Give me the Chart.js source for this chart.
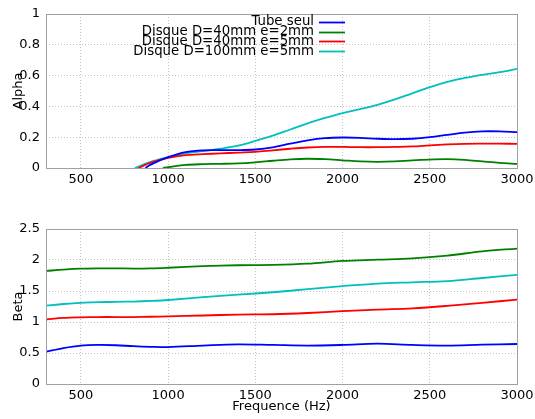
<!DOCTYPE html>
<html>
<head>
<meta charset="utf-8">
<script src="https://cdn.jsdelivr.net/npm/chart.js@4.4.1/dist/chart.umd.min.js"></script>
<style>
	html, body { margin: 0; padding: 0; background: #fff; }
	#wrap { position: relative; width: 535px; height: 419px; }
	.box { position: absolute; left: 0; width: 535px; }
</style>
</head>
<body>
<div id="wrap">
	<div class="box" style="top:0;height:200px"><canvas id="alpha"></canvas></div>
	<div class="box" style="top:200px;height:219px"><canvas id="beta"></canvas></div>
</div>
<script>
	'use strict';

	var seriesNames = ['Tube seul', 'Disque D=40mm e=2mm', 'Disque D=40mm e=5mm', 'Disque D=100mm e=5mm'];
	var seriesColors = ['#0000ff', '#008000', '#ff0000', '#00bfbf'];

	// Alpha (top), sampled every 100 Hz from 1000 to 3000, plus where each curve starts
	var alphaFreqs = [1000, 1100, 1200, 1300, 1400, 1500, 1600, 1700, 1800, 1900, 2000,
		2100, 2200, 2300, 2400, 2500, 2600, 2700, 2800, 2900, 3000];
	var alphaStartFreqs = [[870, 900], [970], [830, 900], [810, 900]];
	var alphaStartVals = [[0, 0.022], [0], [0, 0.035], [0, 0.04]];
	var alphaTube = [0.07, 0.103, 0.115, 0.116, 0.116, 0.12, 0.134, 0.158, 0.18, 0.194, 0.198,
		0.196, 0.19, 0.187, 0.19, 0.2, 0.215, 0.23, 0.238, 0.238, 0.233];
	var alphaD40e2 = [0.005, 0.02, 0.025, 0.027, 0.03, 0.037, 0.047, 0.056, 0.06, 0.057, 0.05,
		0.043, 0.04, 0.043, 0.05, 0.055, 0.058, 0.053, 0.043, 0.033, 0.027];
	var alphaD40e5 = [0.065, 0.083, 0.09, 0.095, 0.1, 0.105, 0.115, 0.125, 0.133, 0.137, 0.137,
		0.135, 0.135, 0.137, 0.14, 0.147, 0.153, 0.157, 0.158, 0.158, 0.157];
	var alphaD100e5 = [0.07, 0.095, 0.11, 0.125, 0.145, 0.176, 0.21, 0.25, 0.29, 0.325, 0.357,
		0.382, 0.41, 0.445, 0.485, 0.525, 0.56, 0.585, 0.605, 0.622, 0.644];

	// Beta (bottom)
	var betaFreqs = [300, 400, 500, 600, 700, 800, 900, 1000, 1200, 1400, 1600, 1800, 2000,
		2200, 2400, 2600, 2800, 3000];
	var betaTube = [0.52, 0.58, 0.62, 0.63, 0.625, 0.61, 0.6, 0.595, 0.62, 0.64, 0.63, 0.62, 0.63,
		0.65, 0.63, 0.62, 0.635, 0.645];
	var betaD40e2 = [1.823, 1.845, 1.86, 1.865, 1.865, 1.862, 1.865, 1.875, 1.9, 1.915, 1.92, 1.94, 1.985,
		2.005, 2.025, 2.07, 2.14, 2.185];
	var betaD40e5 = [1.04, 1.065, 1.075, 1.08, 1.08, 1.08, 1.085, 1.09, 1.105, 1.12, 1.125, 1.145, 1.175,
		1.2, 1.22, 1.26, 1.31, 1.36];
	var betaD100e5 = [1.263, 1.29, 1.31, 1.32, 1.325, 1.33, 1.34, 1.355, 1.4, 1.44, 1.48, 1.53, 1.58,
		1.62, 1.64, 1.66, 1.71, 1.76];

	var xTicks = [500, 1000, 1500, 2000, 2500, 3000];

	var FONT = 'DejaVu Sans';
	Chart.defaults.font.family = FONT;
	Chart.defaults.font.size = 13;
	Chart.defaults.color = '#000';

	function toPoints(freqs, vals) {
		return freqs.map(function (f, i) { return {x: f, y: vals[i]}; });
	}

	function plainNumber(value) {
		return String(Math.round(value * 10) / 10);
	}

	function makeDatasets(parts) {
		return parts.map(function (pts, i) {
			return {
				label: seriesNames[i],
				data: pts,
				borderColor: seriesColors[i],
				backgroundColor: seriesColors[i],
				borderWidth: 1.8,
				pointRadius: 0,
				tension: 0.35,
				fill: false
			};
		});
	}

	// gnuplot style frame around the plot area
	var framePlugin = {
		id: 'frame',
		afterDraw: function (chart) {
			var a = chart.chartArea, ctx = chart.ctx;
			ctx.save();
			ctx.strokeStyle = '#a0a0a0';
			ctx.lineWidth = 1;
			ctx.strokeRect(Math.round(a.left) + 0.5, Math.round(a.top) + 0.5,
				Math.round(a.right - a.left), Math.round(a.bottom - a.top));
			ctx.restore();
		}
	};

	// legend drawn inside the plot, text right aligned before a line sample
	var keyPlugin = {
		id: 'key',
		afterDraw: function (chart) {
			var a = chart.chartArea, ctx = chart.ctx,
				lineEnd = a.left + 299,
				lineStart = lineEnd - 26,
				textRight = lineStart - 5,
				rowTop = a.top + 8,
				rowStep = 9.7;
			ctx.save();
			ctx.font = '13.3px "' + FONT + '"';
			ctx.textAlign = 'right';
			ctx.textBaseline = 'middle';
			chart.data.datasets.forEach(function (ds, i) {
				var y = rowTop + i * rowStep;
				ctx.fillStyle = '#000';
				ctx.fillText(ds.label, textRight, y);
				ctx.strokeStyle = ds.borderColor;
				ctx.lineWidth = 1.8;
				ctx.beginPath();
				ctx.moveTo(lineStart, Math.round(y) + 0.5);
				ctx.lineTo(lineEnd, Math.round(y) + 0.5);
				ctx.stroke();
			});
			ctx.restore();
		}
	};

	function gridOpts() {
		return {color: '#c4c4c4', lineWidth: 1, drawTicks: false};
	}

	function makeOptions(yMax, yStep, yTitle, xTitle, padTop, xHeight) {
		return {
			responsive: true,
			maintainAspectRatio: false,
			animation: false,
			layout: {padding: {top: padTop, right: 18, left: 0, bottom: 0}},
			plugins: {legend: {display: false}, tooltip: {enabled: false}},
			scales: {
				x: {
					type: 'linear',
					min: 300,
					max: 3000,
					afterBuildTicks: function (scale) {
						scale.ticks = xTicks.map(function (v) { return {value: v}; });
					},
					afterFit: function (scale) {
						scale.height = xHeight;
						scale.paddingLeft = 0;
						scale.paddingRight = 0;
					},
					ticks: {padding: 4, maxRotation: 0, autoSkip: false, callback: plainNumber},
					grid: gridOpts(),
					border: {display: false, dash: [1, 2]},
					title: {
						display: !!xTitle,
						text: xTitle,
						font: {size: 13},
						padding: {top: 0, bottom: 5}
					}
				},
				y: {
					min: 0,
					max: yMax,
					afterFit: function (scale) { scale.width = 46; },
					ticks: {stepSize: yStep, padding: 6, callback: plainNumber},
					grid: gridOpts(),
					border: {display: false, dash: [1, 2]},
					title: {
						display: true,
						text: yTitle,
						font: {size: 13},
						padding: {top: 11, bottom: 0}
					}
				}
			}
		};
	}

	var alphaSeries = [alphaTube, alphaD40e2, alphaD40e5, alphaD100e5].map(function (vals, i) {
		return toPoints(alphaStartFreqs[i].concat(alphaFreqs), alphaStartVals[i].concat(vals));
	});

	var betaSeries = [betaTube, betaD40e2, betaD40e5, betaD100e5].map(function (vals) {
		return toPoints(betaFreqs, vals);
	});

	new Chart(document.getElementById('alpha'), {
		type: 'line',
		data: {datasets: makeDatasets(alphaSeries)},
		options: makeOptions(1, 0.2, 'Alpha', '', 14, 32),
		plugins: [framePlugin, keyPlugin]
	});

	new Chart(document.getElementById('beta'), {
		type: 'line',
		data: {datasets: makeDatasets(betaSeries)},
		options: makeOptions(2.5, 0.5, 'Beta', 'Frequence (Hz)', 29, 35),
		plugins: [framePlugin]
	});
</script>
</body>
</html>
